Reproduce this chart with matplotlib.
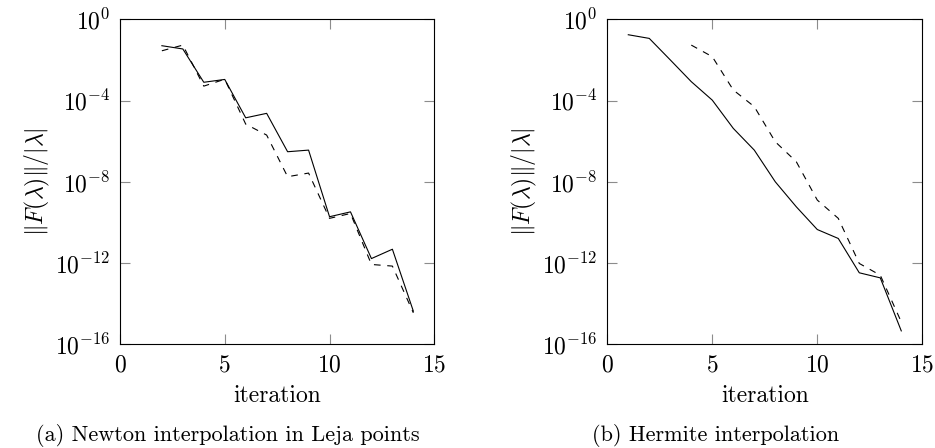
import matplotlib
matplotlib.use("Agg")
import matplotlib.pyplot as plt
import numpy as np

plt.rcParams['font.family'] = 'serif'
plt.rcParams['font.serif'] = ['cmr10', 'DejaVu Serif']
plt.rcParams['mathtext.fontset'] = 'cm'
plt.rcParams['axes.formatter.use_mathtext'] = True

# (a) Newton interpolation in Leja points, log10 of residual
newton_iter = [2, 3, 4, 5, 6, 7, 8, 9, 10, 11, 12, 13, 14]
newton_solid = [-1.30, -1.46, -3.10, -2.96, -4.85, -4.63, -6.52, -6.44,
                -9.72, -9.48, -11.78, -11.32, -14.37]
newton_dashed = [-1.55, -1.27, -3.29, -2.95, -5.16, -5.70, -7.75, -7.57,
                 -9.80, -9.56, -12.07, -12.15, -14.45]

# (b) Hermite interpolation
herm_iter_solid = [1, 2, 3, 4, 5, 6, 7, 8, 9, 10, 11, 12, 13, 14]
herm_solid = [-0.76, -0.94, -2.00, -3.07, -3.98, -5.37, -6.44, -8.00,
              -9.23, -10.35, -10.79, -12.48, -12.73, -15.34]
herm_iter_dashed = [4, 5, 6, 7, 8, 9, 10, 11, 12, 13, 14]
herm_dashed = [-1.27, -1.84, -3.48, -4.30, -6.03, -7.01, -8.90, -9.80,
               -12.02, -12.60, -14.90]

captions = ["(a) Newton interpolation in Leja points", "(b) Hermite interpolation"]

fig = plt.figure(figsize=(9.35, 4.48), dpi=100)
ax1 = fig.add_axes([0.1283, 0.2315, 0.3362, 0.7254])
ax2 = fig.add_axes([0.6495, 0.2315, 0.3369, 0.7254])

panels = [
    (ax1, newton_iter, newton_solid, newton_iter, newton_dashed),
    (ax2, herm_iter_solid, herm_solid, herm_iter_dashed, herm_dashed),
]

for ax, xs, ys, xd, yd in panels:
    ax.plot(xs, 10.0 ** np.array(ys), color='black', lw=0.8)
    ax.plot(xd, 10.0 ** np.array(yd), color='black', lw=0.8, dashes=(6, 6))
    ax.set_yscale('log')
    ax.set_xlim(0, 15)
    ax.set_ylim(1e-16, 1e0)
    ax.set_xticks([0, 5, 10, 15])
    ax.set_yticks([1e-16, 1e-12, 1e-8, 1e-4, 1e0])
    ax.minorticks_off()
    ax.tick_params(direction='in', length=7, width=0.8, color='0.55',
                   top=True, right=True, labelsize=17, pad=7)
    for sp in ax.spines.values():
        sp.set_linewidth(0.8)
    ax.set_xlabel('iteration', fontsize=17, labelpad=6)
    ax.set_ylabel(r'$\|F(\lambda)\|/|\lambda|$', fontsize=17, labelpad=2)

fig.text(0.2435, 0.027, captions[0], ha='center', va='center', fontsize=16)
fig.text(0.765, 0.027, captions[1], ha='center', va='center', fontsize=16)

fig.savefig('out.png', dpi=100)
